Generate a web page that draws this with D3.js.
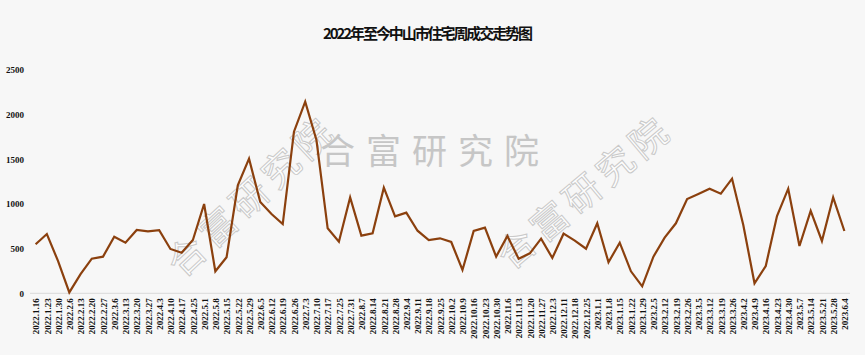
<!DOCTYPE html>
<html><head><meta charset="utf-8">
<script src="https://cdn.jsdelivr.net/npm/d3@7/dist/d3.min.js"></script>
<style>
html,body{margin:0;padding:0;background:#f7f7f7;}
svg{display:block;}
</style></head>
<body>
<svg id="c" width="865" height="355"></svg>
<script>
const title = "2022年至今中山市住宅周成交走势图";
const categories = ["2022.1.16","2022.1.23","2022.1.30","2022.2.6","2022.2.13","2022.2.20","2022.2.27","2022.3.6","2022.3.13","2022.3.20","2022.3.27","2022.4.3","2022.4.10","2022.4.17","2022.4.25","2022.5.1","2022.5.8","2022.5.15","2022.5.22","2022.5.29","2022.6.5","2022.6.12","2022.6.19","2022.6.26","2022.7.3","2022.7.10","2022.7.17","2022.7.25","2022.7.31","2022.8.7","2022.8.14","2022.8.21","2022.8.28","2022.9.4","2022.9.11","2022.9.18","2022.9.25","2022.10.2","2022.10.9","2022.10.16","2022.10.23","2022.10.30","2022.11.6","2022.11.13","2022.11.20","2022.11.27","2022.12.3","2022.12.11","2022.12.18","2022.12.25","2023.1.1","2023.1.8","2023.1.15","2023.1.22","2023.1.29","2023.2.5","2023.2.12","2023.2.19","2023.2.26","2023.3.5","2023.3.12","2023.3.19","2023.3.26","2023.4.2","2023.4.9","2023.4.16","2023.4.23","2023.4.30","2023.5.7","2023.5.14","2023.5.21","2023.5.28","2023.6.4"];
const values = [548,663,360,10,215,387,410,633,566,708,693,705,496,454,596,999,246,403,1208,1506,1021,887,775,1808,2143,1715,727,577,1073,645,671,1181,861,902,700,596,615,574,261,697,734,410,641,387,447,611,395,667,590,499,783,347,566,246,78,410,622,783,1055,1111,1170,1114,1282,764,112,305,865,1170,529,921,585,1074,697];
const yTicks = [0,500,1000,1500,2000,2500];
const watermark = "合富研究院";

const svg = d3.select("#c");
svg.append("rect").attr("width",865).attr("height",355).attr("fill","#f7f7f7");

const x = d3.scalePoint().domain(categories).range([30,850]).padding(0.5);
const y = d3.scaleLinear().domain([0,2500]).range([293.3,69.8]);

// watermarks
const wm = svg.append("g");
[[252,196,-43],[585,192,-40]].forEach(([cx,cy,a])=>{
  wm.append("text").attr("transform",`translate(${cx},${cy}) rotate(${a})`)
    .attr("text-anchor","middle").attr("dy","0.35em")
    .attr("font-family","Noto Sans CJK SC").attr("font-size",37)
    .attr("letter-spacing",6).attr("fill","#fdfdfd")
    .attr("stroke","#c9c9c9").attr("stroke-width",1).text(watermark);
});
wm.append("text").attr("x",320).attr("y",164)
  .attr("font-family","Noto Sans CJK SC").attr("font-size",35)
  .attr("letter-spacing",11).attr("fill","#c6c6c6").text(watermark);

// title
svg.append("text").attr("x",323).attr("y",39)
  .attr("font-family","Noto Sans CJK SC").attr("font-weight","bold")
  .attr("font-size",15).attr("textLength",210).attr("lengthAdjust","spacing")
  .attr("fill","#111").text(title);

// y axis labels
const yAxis = d3.axisLeft(y).tickValues(yTicks).tickSize(0).tickPadding(0).tickFormat(d3.format("d"));
const gy = svg.append("g").attr("transform","translate(24,0)").call(yAxis);
gy.select(".domain").remove();
gy.selectAll("text").attr("font-family","Liberation Serif").attr("font-weight","bold")
  .attr("font-size",9).attr("fill","#111");

// x axis
const xAxis = d3.axisBottom(x).tickSize(0).tickPadding(0);
const gx = svg.append("g").attr("transform","translate(0,293.3)").call(xAxis);
gx.select(".domain").attr("stroke","#d9d9d9").attr("d","M30,0H850");
gx.selectAll("text").attr("font-family","Liberation Serif").attr("font-weight","bold")
  .attr("font-size",9).attr("fill","#111")
  .attr("text-anchor","end").attr("dy",null).attr("y",0)
  .attr("transform","translate(3.2,5) rotate(-90)");

// line
const line = d3.line().x((d,i)=>x(categories[i])).y(d=>y(d));
svg.append("path").datum(values).attr("d",line).attr("fill","none")
  .attr("stroke","#8b400e").attr("stroke-width",2.2).attr("stroke-linejoin","miter");
</script>
</body></html>
